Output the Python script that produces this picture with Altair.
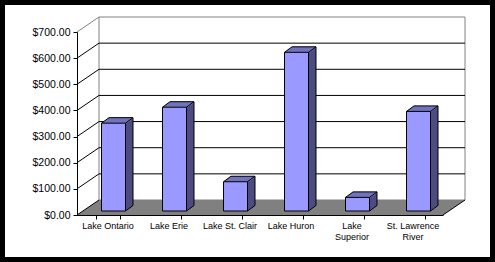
import altair as alt
import pandas as pd

# ---- data ----
categories = ["Lake Ontario", "Lake Erie", "Lake St. Clair", "Lake Huron",
              "Lake Superior", "St. Lawrence River"]
values = [336, 397, 112, 607, 52, 381]
y_ticks = [0, 100, 200, 300, 400, 500, 600, 700]
inner_grid = [100, 200, 300, 400, 500, 600]

df = pd.DataFrame({"cat": categories, "value": values})
grid_all = pd.DataFrame({"v": y_ticks})
grid_in = pd.DataFrame({"v": inner_grid})
one = pd.DataFrame({"a": [0]})

# ---- geometry (pixels) ----
W, H = 366, 183          # front plot area
DX, DY = 22, -15         # back wall offset
FX, FY = 6, -4           # bar front face offset (depth position)
BX, BY = 7.5, -5.5       # bar depth
BAR_W = 24
N = 16                   # extrusion steps

FRONT = "#9999FF"
TOP = "#7373BF"
SIDE = "#4D4D80"
GRAY = "#808080"
FONT = "Liberation Sans"

step = W / len(categories)
pad_inner = 1 - BAR_W / step
xscale = alt.Scale(domain=categories, paddingInner=pad_inner, paddingOuter=pad_inner / 2)
yscale = alt.Scale(domain=[0, 700], nice=False)

label_expr = ("datum.value == 'Lake Superior' ? ['Lake', 'Superior'] : "
              "datum.value == 'St. Lawrence River' ? ['St. Lawrence', 'River'] : datum.label")

x_axis = alt.Axis(title=None, tickBand="extent", labelAngle=0, labelFont=FONT,
                  labelFontSize=9, labelColor="black", domainColor="black",
                  tickColor="black", tickSize=4, labelPadding=2, labelLineHeight=11,
                  labelExpr=label_expr, zindex=1, grid=False)
y_axis = alt.Axis(title=None, values=y_ticks, format="$.2f", labelFont=FONT,
                  labelFontSize=10.5, labelColor="black", domainColor="black",
                  tickColor="black", tickSize=4, labelPadding=3, zindex=1, grid=False)

Xb = alt.X("cat:N", scale=xscale, sort=None, axis=x_axis)
Xc = alt.X("cat:N", scale=xscale, sort=None, axis=x_axis, bandPosition=0.5)
X2c = alt.X2("cat", bandPosition=0.5)
Yv = alt.Y("value:Q", scale=yscale, axis=y_axis)
Yz = alt.Y("zero:Q", scale=yscale, axis=y_axis)
Yg = alt.Y("v:Q", scale=yscale, axis=y_axis)

layers = []

# white panel inside the black frame
layers.append(alt.Chart(one).mark_rect(fill="white").encode(
    x=alt.value(-72), x2=alt.value(413), y=alt.value(-27), y2=alt.value(225)))

# back wall
layers.append(alt.Chart(one).mark_rect(fill="white", stroke=GRAY, strokeWidth=1).encode(
    x=alt.value(DX), x2=alt.value(W + DX), y=alt.value(DY), y2=alt.value(H + DY)))

# floor (parallelogram symbol)
r = (W + DX) / 2
hx = (W - r) / r
hy = (-DY / 2) / r
floor_path = f"M -1 {hy:.5f} L {hx:.5f} {hy:.5f} L 1 {-hy:.5f} L {-hx:.5f} {-hy:.5f} Z"
layers.append(alt.Chart(one).mark_point(shape=floor_path, filled=True, fill=GRAY,
                                        opacity=1, strokeWidth=0, size=(2 * r) ** 2).encode(
    x=alt.value(r), y=alt.value(H + DY / 2)))

# back wall gridlines
layers.append(alt.Chart(grid_in).mark_rule(color="black", strokeWidth=1, yOffset=DY).encode(
    x=alt.value(DX), x2=alt.value(W + DX), y=Yg))

# side wall diagonals
layers.append(alt.Chart(grid_all).mark_rule(strokeWidth=1, y2Offset=DY).encode(
    x=alt.value(0), x2=alt.value(DX), y=Yg, y2=alt.Y2("v"),
    color=alt.condition("datum.v == 700", alt.value(GRAY), alt.value("black"))))

# floor right edge
layers.append(alt.Chart(one).mark_rule(color="black", strokeWidth=1).encode(
    x=alt.value(W), x2=alt.value(W + DX), y=alt.value(H), y2=alt.value(H + DY)))

# bar extrusion (dark body)
for i in range(N, 0, -1):
    t = i / N
    dx, dy = FX + BX * t, FY + BY * t
    layers.append(alt.Chart(df).transform_calculate(zero="0").mark_bar(
        color=SIDE, xOffset=dx, x2Offset=dx, yOffset=dy, y2Offset=dy).encode(
        x=Xb, y=Yv, y2=alt.Y2("zero")))

# bar top faces
for i in range(N, 0, -1):
    t = i / N
    dx, dy = FX + BX * t, FY + BY * t
    layers.append(alt.Chart(df).mark_bar(
        color=TOP, xOffset=dx, x2Offset=dx, yOffset=dy, y2Offset=dy + 1.2).encode(
        x=Xb, y=Yv, y2=alt.Y2("value")))

# bar front faces
layers.append(alt.Chart(df).transform_calculate(zero="0").mark_bar(
    fill=FRONT, stroke="black", strokeWidth=1,
    xOffset=FX, x2Offset=FX, yOffset=FY, y2Offset=FY).encode(
    x=Xb, y=Yv, y2=alt.Y2("zero")))

# bar edges
hw = BAR_W / 2
edges = [
    # (x off1, x off2, y field1, y off1, y field2, y off2)
    (-hw + FX, -hw + FX + BX, "value", FY, "value", FY + BY),
    (hw + FX, hw + FX + BX, "value", FY, "value", FY + BY),
    (-hw + FX + BX, hw + FX + BX, "value", FY + BY, "value", FY + BY),
    (hw + FX + BX, hw + FX + BX, "value", FY + BY, "zero", FY + BY),
    (hw + FX, hw + FX + BX, "zero", FY, "zero", FY + BY),
]
for xo1, xo2, yf1, yo1, yf2, yo2 in edges:
    layers.append(alt.Chart(df).transform_calculate(zero="0").mark_rule(
        color="black", strokeWidth=1,
        xOffset=xo1, x2Offset=xo2, yOffset=yo1, y2Offset=yo2).encode(
        x=Xc, x2=X2c, y=alt.Y(f"{yf1}:Q", scale=yscale, axis=y_axis), y2=alt.Y2(yf2)))

chart = alt.layer(*layers).properties(
    width=W, height=H,
    autosize=alt.AutoSizeParams(type="none"),
    padding={"left": 77, "top": 32, "right": 495 - 77 - W, "bottom": 262 - 32 - H},
    background="black",
).configure_view(stroke=None)

chart.save("out.html", embed_options={"renderer": "svg", "actions": False})
